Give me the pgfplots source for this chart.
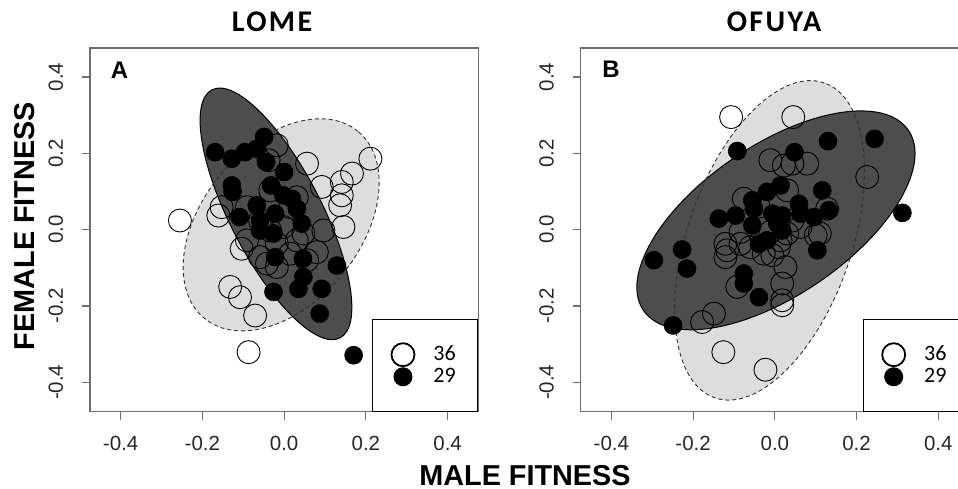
\documentclass[border=0pt]{standalone}
\usepackage{pgfplots}
\pgfplotsset{compat=1.18}
\usepackage{fontspec}
\setmainfont{Liberation Sans}
\newfontfamily\carlito{Carlito}
\definecolor{darkell}{RGB}{77,77,77}
\definecolor{lightell}{RGB}{221,221,221}
\definecolor{framegray}{RGB}{110,110,110}

\pgfplotstableread{
x y
-0.255 0.024
-0.161 0.037
-0.153 0.059
-0.132 -0.150
-0.108 -0.177
-0.071 -0.225
-0.087 -0.321
0.211 0.186
0.166 0.147
0.141 0.125
0.141 0.090
0.137 0.064
0.145 0.007
0.092 0.112
0.056 0.173
-0.018 0.221
-0.038 0.182
-0.104 -0.050
-0.059 -0.072
-0.042 -0.089
0.015 -0.063
0.080 -0.059
0.056 -0.080
-0.018 -0.037
0.047 -0.010
-0.034 -0.002
0.031 0.085
-0.091 0.059
-0.034 0.103
0.015 0.059
-0.059 0.024
-0.002 0.007
-0.091 -0.028
0.031 -0.028
-0.018 -0.098
0.096 -0.002
}\openA

\pgfplotstableread{
x y
-0.169 0.203
-0.128 0.186
-0.096 0.203
-0.067 0.212
-0.049 0.243
-0.044 0.177
0.000 0.151
-0.128 0.116
-0.126 0.099
-0.032 0.116
-0.109 0.033
-0.067 0.064
-0.059 0.024
-0.022 0.042
0.019 0.081
0.031 0.055
0.043 0.016
-0.026 -0.010
-0.059 -0.002
-0.022 -0.072
0.046 -0.076
0.129 -0.094
0.047 -0.124
0.035 -0.155
0.092 -0.155
-0.026 -0.163
0.087 -0.220
0.170 -0.329
-0.002 0.090
}\fullA

\pgfplotstableread{
x y
-0.107 0.295
0.045 0.295
0.226 0.138
-0.011 0.182
0.022 0.168
0.079 0.173
0.043 0.173
-0.076 0.081
0.030 0.103
0.128 0.055
0.100 -0.015
0.043 0.024
-0.121 -0.037
-0.117 -0.054
-0.121 -0.072
-0.084 -0.037
-0.060 -0.046
-0.027 -0.063
0.010 -0.046
0.030 -0.010
0.026 -0.098
-0.092 -0.150
0.018 -0.141
0.018 -0.185
0.018 -0.198
-0.149 -0.220
-0.178 -0.242
-0.126 -0.321
-0.023 -0.367
-0.011 -0.006
0.063 0.007
0.014 -0.028
-0.084 -0.006
-0.006 -0.067
0.110 -0.010
-0.040 0.060
}\openB

\pgfplotstableread{
x y
-0.092 0.206
0.048 0.203
0.130 0.232
0.244 0.238
0.312 0.044
0.116 0.103
0.014 0.116
-0.019 0.099
-0.055 0.077
-0.051 0.055
-0.096 0.037
-0.137 0.029
-0.055 0.011
-0.006 0.042
0.018 0.037
0.059 0.068
0.063 0.042
0.096 0.033
0.132 0.051
0.006 0.016
0.018 -0.002
-0.019 -0.028
-0.039 -0.037
0.104 -0.054
-0.227 -0.052
-0.296 -0.080
-0.215 -0.102
-0.076 -0.115
-0.076 -0.141
-0.039 -0.177
-0.249 -0.251
}\fullB

\pgfplotsset{
  ptlegend/.style={legend image code/.code={\draw[##1] plot coordinates {(4.5pt,0pt)};}},
  panel/.style={
    scale only axis, width=194.15pt, height=181.85pt,
    xmin=-0.475, xmax=0.475, ymin=-0.477, ymax=0.476,
    xtick={-0.4,-0.2,0,0.2,0.4}, xticklabels={-0.4,-0.2,0.0,0.2,0.4},
    ytick={-0.4,-0.2,0,0.2,0.4}, yticklabels={-0.4,-0.2,0.0,0.2,0.4},
    xtick pos=bottom, ytick pos=left,
    tick align=outside, major tick length=4pt,
    axis line style={framegray, line width=0.6pt},
    every tick/.style={framegray, line width=0.6pt},
    tick label style={font=\fontsize{10.25}{12}\selectfont, inner sep=0pt, text=black!85},
    xticklabel style={anchor=north},
    xticklabel shift=8pt,
    yticklabel style={rotate=90, anchor=south},
    yticklabel shift=9.2pt,
    legend style={at={(1,0)}, anchor=south east, draw=black, line width=0.5pt, fill=white,
      font=\carlito\fontsize{11}{13}\selectfont, inner xsep=9.5pt, inner ysep=11.4pt,
      row sep=-0.75pt, cells={anchor=west}, nodes={inner sep=1.5pt},
      /tikz/every odd column/.append style={column sep=8pt}},
    openpt/.style={only marks, mark=o, mark size=5.75pt, mark options={line width=0.45pt, draw=black}},
    fullpt/.style={only marks, mark=*, mark size=4.5pt, mark options={fill=black, draw=black, line width=0.3pt}},
  }
}

\begin{document}
\begin{tikzpicture}
\useasboundingbox (0pt,0pt) rectangle (479pt,244pt);

% Panel A
\begin{axis}[panel, at={(45pt,38.15pt)}, anchor=south west]
  \fill[lightell, rotate around={50.6:(axis cs:-0.0073,0.0126)}] (axis cs:-0.0073,0.0126) ellipse [x radius=60.5pt, y radius=39.4pt];
  \filldraw[fill=darkell, draw=black, line width=0.5pt, rotate around={-62.7:(axis cs:-0.020,0.0414)}] (axis cs:-0.020,0.0414) ellipse [x radius=69.8pt, y radius=22.9pt];
  \draw[black!80, line width=0.45pt, dash pattern=on 2pt off 1.5pt, rotate around={50.6:(axis cs:-0.0073,0.0126)}] (axis cs:-0.0073,0.0126) ellipse [x radius=60.5pt, y radius=39.4pt];
  \addplot[openpt, forget plot] table {\openA};
  \addplot[fullpt, forget plot] table {\fullA};
  \addlegendimage{only marks, mark=o, mark size=5.75pt, mark options={line width=0.9pt, draw=black}, ptlegend}
  \addlegendentry{36}
  \addlegendimage{only marks, mark=*, mark size=4.5pt, mark options={fill=black, draw=black}, ptlegend}
  \addlegendentry{29}
\end{axis}

% Panel B
\begin{axis}[panel, at={(290.35pt,38.15pt)}, anchor=south west]
  \fill[lightell, rotate around={70.8:(axis cs:-0.013,-0.028)}] (axis cs:-0.013,-0.028) ellipse [x radius=83.35pt, y radius=41.05pt];
  \filldraw[fill=darkell, draw=black, line width=0.5pt, rotate around={34.2:(axis cs:0.0027,0.0244)}] (axis cs:0.0027,0.0244) ellipse [x radius=80.1pt, y radius=37.6pt];
  \draw[black!80, line width=0.45pt, dash pattern=on 2pt off 1.5pt, rotate around={70.8:(axis cs:-0.013,-0.028)}] (axis cs:-0.013,-0.028) ellipse [x radius=83.35pt, y radius=41.05pt];
  \addplot[openpt, forget plot] table {\openB};
  \addplot[fullpt, forget plot] table {\fullB};
  \addlegendimage{only marks, mark=o, mark size=5.75pt, mark options={line width=0.9pt, draw=black}, ptlegend}
  \addlegendentry{36}
  \addlegendimage{only marks, mark=*, mark size=4.5pt, mark options={fill=black, draw=black}, ptlegend}
  \addlegendentry{29}
\end{axis}

% titles and labels
\node[font=\carlito\bfseries\fontsize{15}{17}\selectfont\addfontfeature{LetterSpace=8}, anchor=base] at (136pt,228.15pt) {LOME};
\node[font=\carlito\bfseries\fontsize{15}{17}\selectfont\addfontfeature{LetterSpace=8}, anchor=base] at (387pt,228.15pt) {OFUYA};
\node[font=\bfseries\fontsize{12}{14}\selectfont, anchor=base] at (59.75pt,204.85pt) {A};
\node[font=\bfseries\fontsize{12}{14}\selectfont, anchor=base] at (305.5pt,205.35pt) {B};
\node[font=\bfseries\fontsize{14.4}{16}\selectfont, anchor=base, rotate=90, inner sep=0pt] at (17.5pt,131pt) {FEMALE FITNESS};
\node[font=\bfseries\fontsize{14.4}{16}\selectfont, anchor=base, inner sep=0pt] at (262.5pt,1.2pt) {MALE FITNESS};
\end{tikzpicture}
\end{document}
